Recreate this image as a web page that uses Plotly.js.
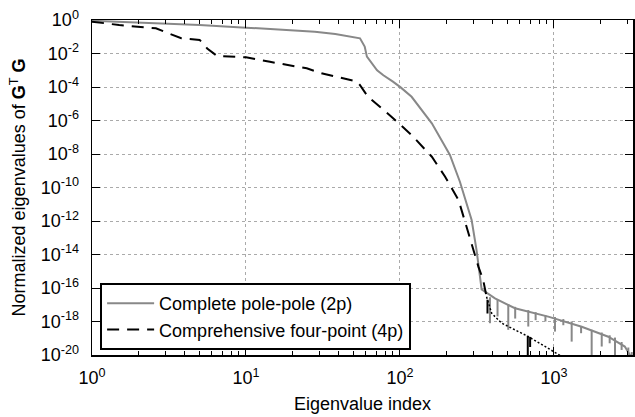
<!DOCTYPE html>
<html>
<head>
<meta charset="utf-8">
<script src="https://cdn.plot.ly/plotly-3.0.1.min.js"></script>
<style>html,body{margin:0;padding:0;background:#fff}#chart{width:635px;height:417px}</style>
</head>
<body>
<div id="chart"></div>
<script>
// Complete pole-pole (2p) — main curve
const ppX = [1, 2, 5, 10, 20, 28, 38, 55, 59, 61, 71, 78, 90, 101, 119, 138, 161, 191, 211, 245, 278, 292, 314, 330, 339, 414, 558, 918, 1514, 2254, 2884, 3260];
const ppY = [0.9, 0.7, 0.5, 0.35, 0.25, 0.2, 0.145, 0.08, 0.026, 0.0065, 0.001, 5e-4, 2.1e-4, 9.5e-5, 2.6e-5, 4.3e-6, 6.8e-7, 4.4e-8, 8.7e-9, 2.2e-10, 6e-12, 1.15e-12, 1.9e-14, 4.8e-16, 8.3e-17, 2.4e-17, 6.2e-18, 1.95e-18, 4.9e-19, 1.23e-19, 3.2e-20, 5e-21];
// 2p dips (index, curve value, dipped value)
const ppSpikeX = [384, 430, 505, 560, 681, 760, 880, 1015, 1150, 1303, 1500, 1757, 2042, 2300, 2490, 2750, 3040, 3200];
const ppSpikeTop = [2.8e-17, 2.0e-17, 1.1e-17, 7.5e-18, 4.8e-18, 3.6e-18, 2.4e-18, 1.85e-18, 1.4e-18, 1.0e-18, 5.2e-19, 3.2e-19, 2.2e-19, 1.5e-19, 1.1e-19, 6e-20, 2.8e-20, 1.5e-20];
const ppSpikeBot = [7.9e-19, 2e-18, 3.2e-19, 1.5e-18, 5e-19, 1.2e-18, 1e-18, 2.5e-19, 6e-19, 6.3e-20, 2e-19, 1e-20, 3.2e-20, 5e-20, 1e-20, 2e-20, 1e-20, 1e-20];

// Comprehensive four-point (4p) — upper part (dashed)
const fpX = [1, 1.5, 2.6, 3.8, 5.0, 5.6, 6.5, 10, 14.3, 24.8, 30.9, 46, 52.5, 55, 62, 88, 119, 161, 196, 240, 278, 323, 347, 365];
const fpY = [0.8, 0.5, 0.32, 0.081, 0.065, 0.02, 0.007, 0.0059, 0.0032, 0.0013, 6.6e-4, 3.0e-4, 2.1e-4, 1.3e-4, 2.6e-5, 1.7e-6, 1.35e-7, 6.9e-9, 4.5e-10, 1.8e-11, 1.9e-13, 1.9e-15, 3.0e-16, 3.0e-17];
// 4p tail (drawn dotted in the reference)
const fpTailX = [365, 394, 457, 560, 681, 918, 1096, 1150];
const fpTailY = [3.0e-17, 3.1e-18, 8e-19, 3e-19, 1.26e-19, 2.5e-20, 1e-20, 7e-21];
// 4p dips
const fpSpikeX = [370, 676, 700];
const fpSpikeTop = [2e-17, 1.4e-19, 1.2e-19];
const fpSpikeBot = [3e-18, 1e-20, 3e-20];

const xTickVals = [1, 10, 100, 1000];
const xTickText = ['10<sup>0</sup>', '10<sup>1</sup>', '10<sup>2</sup>', '10<sup>3</sup>'];
const yTickVals = [1, 1e-2, 1e-4, 1e-6, 1e-8, 1e-10, 1e-12, 1e-14, 1e-16, 1e-18, 1e-20];
const yTickText = ['10<sup>0</sup>', '10<sup>-2</sup>', '10<sup>-4</sup>', '10<sup>-6</sup>', '10<sup>-8</sup>', '10<sup>-10</sup>', '10<sup>-12</sup>', '10<sup>-14</sup>', '10<sup>-16</sup>', '10<sup>-18</sup>', '10<sup>-20</sup>'];

function segs(xs, tops, bots) {
  const x = [], y = [];
  xs.forEach((v, i) => { x.push(v, v, null); y.push(tops[i], bots[i], null); });
  return {x, y};
}
const ppS = segs(ppSpikeX, ppSpikeTop, ppSpikeBot);
const fpS = segs(fpSpikeX, fpSpikeTop, fpSpikeBot);

const minorX = [];
for (let d = 1; d <= 1000; d *= 10) for (let k = 2; k <= 9; k++) minorX.push(k * d);

const gray = '#888888';
const traces = [
  {x: ppS.x, y: ppS.y, mode: 'lines', line: {color: gray, width: 2}, showlegend: false, hoverinfo: 'skip', connectgaps: false},
  {x: ppX, y: ppY, mode: 'lines', name: 'Complete pole-pole (2p)', line: {color: gray, width: 2}},
  {x: fpS.x, y: fpS.y, mode: 'lines', line: {color: '#000', width: 2}, showlegend: false, hoverinfo: 'skip', connectgaps: false},
  {x: fpTailX, y: fpTailY, mode: 'lines', line: {color: '#000', width: 1.5, dash: '2px,2px'}, showlegend: false, hoverinfo: 'skip'},
  {x: fpX, y: fpY, mode: 'lines', name: 'Comprehensive four-point (4p)', line: {color: '#000', width: 2, dash: '12px,8px'}}
];

const fam = '"Liberation Sans", Arial, sans-serif';
const layout = {
  width: 635, height: 417,
  margin: {l: 92, r: 2, t: 20, b: 62},
  paper_bgcolor: '#fff', plot_bgcolor: '#fff',
  font: {family: fam, size: 18, color: '#000'},
  showlegend: true,
  legend: {x: 0.015, y: 0.015, xanchor: 'left', yanchor: 'bottom', bgcolor: '#fff', bordercolor: '#000', borderwidth: 2, font: {family: fam, size: 18, color: '#000'}, tracegroupgap: 0, itemwidth: 47},
  xaxis: {
    type: 'log', range: [0, Math.log10(3260)],
    tickmode: 'array', tickvals: xTickVals, ticktext: xTickText,
    ticks: 'inside', ticklen: 8, tickwidth: 1, tickcolor: '#000',
    showline: true, linecolor: '#000', linewidth: 1.5, mirror: 'ticks',
    showgrid: true, gridcolor: '#aaaaaa', griddash: 'dot', gridwidth: 1,
    zeroline: false, ticklabelstandoff: 6,
    minor: {tickmode: 'array', tickvals: minorX, ticks: 'inside', ticklen: 4, tickcolor: '#000', showgrid: false},
    title: {text: 'Eigenvalue index', font: {family: fam, size: 18}, standoff: 10},
    tickfont: {family: fam, size: 18}
  },
  yaxis: {
    type: 'log', range: [-20, 0],
    tickmode: 'array', tickvals: yTickVals, ticktext: yTickText,
    ticks: 'inside', ticklen: 8, tickwidth: 1, tickcolor: '#000',
    showline: true, linecolor: '#000', linewidth: 1.5, mirror: 'ticks',
    showgrid: true, gridcolor: '#aaaaaa', griddash: 'dot', gridwidth: 1,
    zeroline: false, ticklabelstandoff: 8,
    title: {text: 'Normalized eigenvalues of <b>G</b><sup>T</sup> <b>G</b>', font: {family: fam, size: 18}, standoff: 10},
    tickfont: {family: fam, size: 18}
  }
};
Plotly.newPlot('chart', traces, layout, {displayModeBar: false, staticPlot: true});
</script>
</body>
</html>
